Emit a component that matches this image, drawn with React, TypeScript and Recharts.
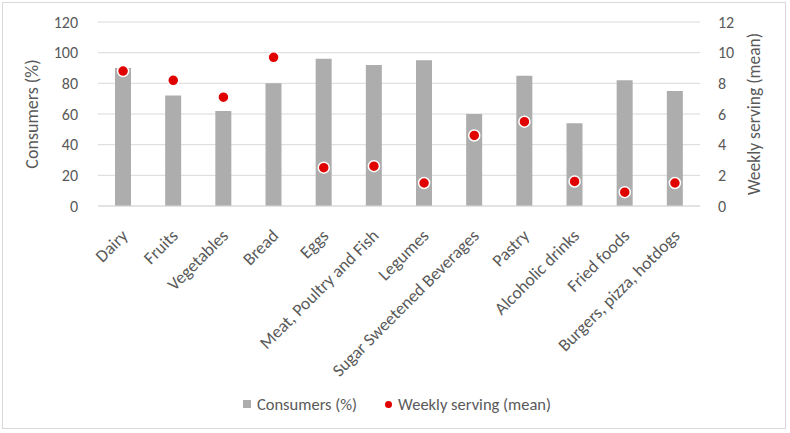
import { Bar, CartesianGrid, ComposedChart, Line, XAxis, YAxis, Legend } from "recharts";

const categories = [
  "Dairy",
  "Fruits",
  "Vegetables",
  "Bread",
  "Eggs",
  "Meat, Poultry and Fish",
  "Legumes",
  "Sugar Sweetened Beverages",
  "Pastry",
  "Alcoholic drinks",
  "Fried foods",
  "Burgers, pizza, hotdogs",
];
const consumers = [90, 72, 62, 80, 96, 92, 95, 60, 85, 54, 82, 75];
const weeklyServing = [8.8, 8.2, 7.1, 9.7, 2.5, 2.6, 1.5, 4.6, 5.5, 1.6, 0.9, 1.5];
const leftTicks = [0, 20, 40, 60, 80, 100, 120];
const rightTicks = [0, 2, 4, 6, 8, 10, 12];

const data = categories.map((name, i) => ({
  name,
  consumers: consumers[i],
  weekly: weeklyServing[i],
}));

const FONT = "Carlito, Calibri, Lato, sans-serif";
const TEXT = "#595959";
const BAR = "#adadad";
const RED = "#e00000";

function CategoryTick({ x, y, payload }: any) {
  return (
    <g transform={`translate(${x + 3},${y + 20})`}>
      <text
        x={0}
        y={0}
        dy={4}
        textAnchor="end"
        transform="rotate(-45)"
        fill={TEXT}
        fontSize={17.5}
        fontFamily={FONT}
      >
        {payload.value}
      </text>
    </g>
  );
}

function LegendContent() {
  return (
    <div
      style={{
        display: "flex",
        justifyContent: "center",
        alignItems: "center",
        gap: 28,
        fontFamily: FONT,
        fontSize: 16.5,
        color: TEXT,
        height: 30,
        paddingLeft: 4,
      }}
    >
      <span style={{ display: "flex", alignItems: "center" }}>
        <span style={{ width: 8, height: 8, background: BAR, marginRight: 6 }} />
        Consumers (%)
      </span>
      <span style={{ display: "flex", alignItems: "center" }}>
        <span
          style={{ width: 7, height: 7, borderRadius: "50%", background: RED, marginRight: 6 }}
        />
        Weekly serving (mean)
      </span>
    </div>
  );
}

export default function App() {
  return (
    <div
      style={{
        position: "absolute",
        left: 0,
        top: 0,
        width: 790,
        height: 433,
        background: "#fff",
      }}
    >
      <div
        style={{
          position: "absolute",
          left: 2,
          top: 2,
          width: 784,
          height: 427,
          border: "1px solid #d9d9d9",
          boxSizing: "border-box",
        }}
      />
      <ComposedChart
        width={790}
        height={433}
        data={data}
        margin={{ top: 22, right: 0, left: 0, bottom: 14 }}
      >
        <CartesianGrid vertical={false} stroke="#d9d9d9" yAxisId="left" />
        <XAxis
          dataKey="name"
          interval={0}
          height={183}
          tick={<CategoryTick />}
          tickLine={false}
          axisLine={{ stroke: "#d9d9d9" }}
        />
        <YAxis
          yAxisId="left"
          domain={[0, 120]}
          ticks={leftTicks}
          width={98}
          axisLine={false}
          tickLine={false}
          tick={{ fill: TEXT, fontSize: 16, fontFamily: FONT }}
          tickMargin={14}
          label={{
            value: "Consumers (%)",
            angle: -90,
            position: "insideLeft",
            offset: 32,
            style: { textAnchor: "middle", fill: TEXT, fontSize: 18, fontFamily: FONT },
          }}
        />
        <YAxis
          yAxisId="right"
          orientation="right"
          domain={[0, 12]}
          ticks={rightTicks}
          width={90}
          axisLine={false}
          tickLine={false}
          tick={{ fill: TEXT, fontSize: 16, fontFamily: FONT, textAnchor: "start" }}
          tickMargin={12}
          label={{
            value: "Weekly serving (mean)",
            angle: -90,
            position: "insideRight",
            offset: 36,
            style: { textAnchor: "middle", fill: TEXT, fontSize: 17.5, fontFamily: FONT },
          }}
        />
        <Legend verticalAlign="bottom" height={30} content={<LegendContent />} />
        <Bar
          yAxisId="left"
          dataKey="consumers"
          name="Consumers (%)"
          fill={BAR}
          barSize={16}
          isAnimationActive={false}
        />
        <Line
          yAxisId="right"
          dataKey="weekly"
          name="Weekly serving (mean)"
          stroke="none"
          dot={{ r: 5.5, fill: RED, stroke: "#fff", strokeWidth: 1.5 }}
          activeDot={false}
          isAnimationActive={false}
        />
      </ComposedChart>
    </div>
  );
}
